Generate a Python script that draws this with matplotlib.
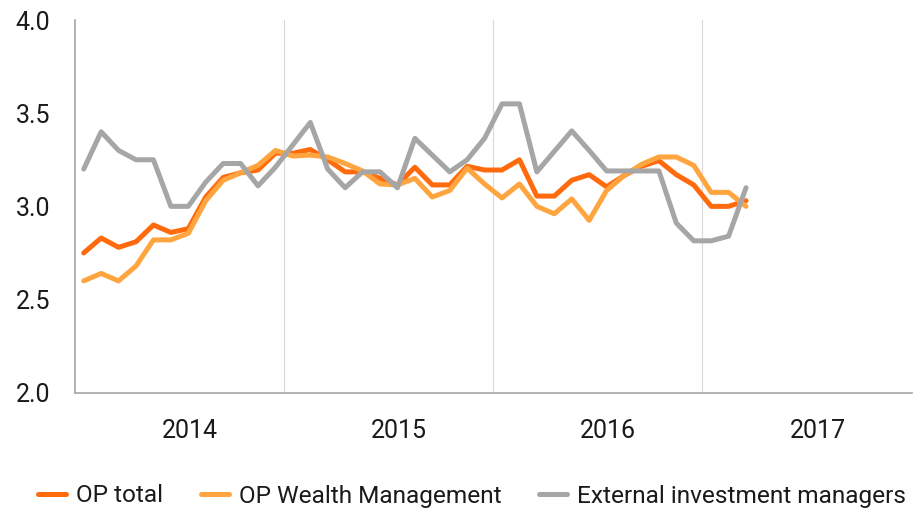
import matplotlib
matplotlib.use("Agg")
import matplotlib.pyplot as plt
import numpy as np

# Monthly averages, January 2014 - March 2017
years = ["2014", "2015", "2016", "2017"]
op_total = [2.75, 2.83, 2.78, 2.81, 2.90, 2.86, 2.88, 3.05, 3.155, 3.18, 3.195, 3.285,
            3.285, 3.305, 3.25, 3.185, 3.185, 3.15, 3.115, 3.21, 3.115, 3.115, 3.215, 3.195,
            3.195, 3.25, 3.055, 3.055, 3.14, 3.17, 3.105, 3.165, 3.215, 3.245, 3.17, 3.115,
            3.0, 3.0, 3.03]
op_wealth = [2.60, 2.64, 2.60, 2.68, 2.82, 2.82, 2.855, 3.03, 3.14, 3.18, 3.22, 3.30,
             3.27, 3.275, 3.265, 3.23, 3.19, 3.12, 3.115, 3.15, 3.05, 3.085, 3.205, 3.12,
             3.045, 3.12, 3.0, 2.96, 3.04, 2.925, 3.085, 3.165, 3.225, 3.265, 3.265, 3.22,
             3.075, 3.075, 3.0]
external = [3.20, 3.40, 3.30, 3.25, 3.25, 3.00, 3.00, 3.13, 3.23, 3.23, 3.11, 3.21,
            3.33, 3.45, 3.20, 3.10, 3.185, 3.185, 3.10, 3.365, 3.275, 3.185, 3.25, 3.365,
            3.55, 3.55, 3.185, 3.295, 3.405, 3.30, 3.19, 3.19, 3.19, 3.19, 2.91, 2.815,
            2.815, 2.84, 3.10]
series_names = ["OP total", "OP Wealth Management", "External investment managers"]
colors = ["#FF6A0D", "#FFA53F", "#A6A6A6"]

plt.rcParams["font.family"] = ["Roboto", "DejaVu Sans"]

fig = plt.figure(figsize=(9.15, 5.13), dpi=100)
ax = fig.add_axes([75 / 915, 1 - 392.7 / 513, (911.6 - 75) / 915, (392.7 - 20) / 513])

months = np.arange(len(op_total))
for vals, name, col in zip([op_total, op_wealth, external], series_names, colors):
    ax.plot(months, vals, color=col, lw=3.6, label=name,
            solid_capstyle="round", solid_joinstyle="round")

ax.set_xlim(-0.5, 12 * len(years) - 0.5)
ax.set_ylim(2.0, 4.0)
ax.set_yticks([2.0, 2.5, 3.0, 3.5, 4.0])
ax.set_yticklabels(["2.0", "2.5", "3.0", "3.5", "4.0"])
ax.set_xticks([12 * i + 6.1 for i in range(len(years))])
ax.set_xticklabels(years)
ax.set_xticks([12 * i - 0.5 for i in range(1, len(years))], minor=True)
ax.grid(True, which="minor", axis="x", color="#D9D9D9", lw=0.8)
ax.tick_params(axis="both", which="both", length=0, labelsize=18, colors="#1A1A1A")
ax.tick_params(axis="x", pad=19)
ax.tick_params(axis="y", pad=18)

for side in ["top", "right"]:
    ax.spines[side].set_visible(False)
for side in ["left", "bottom"]:
    ax.spines[side].set_color("#A6A6A6")
    ax.spines[side].set_linewidth(1.2)

leg = fig.legend(loc="center left", bbox_to_anchor=(38 / 915, 1 - 496 / 513),
                 ncol=3, frameon=False, fontsize=17.6, handlelength=1.15,
                 handletextpad=0.4, columnspacing=1.55, borderpad=0, borderaxespad=0)
for t in leg.get_texts():
    t.set_color("#1A1A1A")

fig.savefig("out.png", dpi=100)
